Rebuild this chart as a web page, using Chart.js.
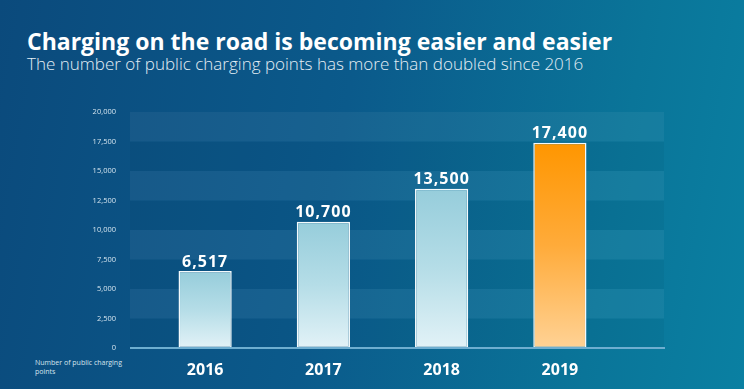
<!DOCTYPE html>
<html>
<head>
<meta charset="utf-8">
<script src="https://cdn.jsdelivr.net/npm/chart.js@4/dist/chart.umd.min.js"></script>
<style>
  html, body { margin: 0; padding: 0; }
  body {
    width: 744px; height: 389px; overflow: hidden; position: relative;
    background: linear-gradient(100deg, #0b4a7c 0%, #0b5a8b 45%, #0a7599 80%, #0a80a2 100%);
    font-family: "Open Sans", sans-serif; color: #fff;
  }
  #title { position: absolute; left: 27px; top: 25px; font-size: 23px; font-weight: 700; white-space: nowrap; }
  #subtitle { position: absolute; left: 27px; top: 52px; font-size: 17px; font-weight: 300; color: #e4eef5; white-space: nowrap; }
  #note { position: absolute; left: 35px; top: 358px; font-size: 7px; line-height: 9px; color: #d5e4ee; }
  canvas { position: absolute; left: 0; top: 0; }
</style>
</head>
<body>
<div id="title">Charging on the road is becoming easier and easier</div>
<div id="subtitle">The number of public charging points has more than doubled since 2016</div>
<div id="note">Number of public charging<br>points</div>
<canvas id="chart" width="744" height="389"></canvas>
<script>
const years = ["2016", "2017", "2018", "2019"];
const chargingPoints = [6517, 10700, 13500, 17400];
const valueLabels = ["6,517", "10,700", "13,500", "17,400"];
const highlightIndex = 3;

// horizontal stripes behind the bars + base line
const bandsPlugin = {
  id: "bands",
  beforeDatasetsDraw(chart) {
    const { ctx, chartArea, scales } = chart;
    const y = scales.y;
    const x0 = chartArea.left - 16, x1 = chartArea.right + 45;
    ctx.save();
    for (let v = 0; v < 20000; v += 2500) {
      const top = y.getPixelForValue(v + 2500), bot = y.getPixelForValue(v);
      ctx.fillStyle = (v / 2500) % 2 === 1 ? "rgba(255,255,255,0.05)" : "rgba(0,0,0,0.035)";
      ctx.fillRect(x0, top, x1 - x0, bot - top);
    }
    ctx.restore();
  },
  afterDatasetsDraw(chart) {
    const { ctx, chartArea, scales } = chart;
    const y0 = scales.y.getPixelForValue(0);
    ctx.save();
    ctx.strokeStyle = "#6eaed0";
    ctx.lineWidth = 2;
    ctx.beginPath();
    ctx.moveTo(chartArea.left - 16, y0);
    ctx.lineTo(chartArea.right + 46, y0);
    ctx.stroke();

    // value labels above the bars
    const meta = chart.getDatasetMeta(0);
    ctx.fillStyle = "#fff";
    ctx.font = "700 16px 'Open Sans'";
    ctx.letterSpacing = "1px";
    ctx.textAlign = "center";
    ctx.textBaseline = "bottom";
    meta.data.forEach((bar, i) => {
      ctx.fillText(valueLabels[i], bar.x, bar.y - 1);
    });
    ctx.restore();
  }
};

function barGradient(context) {
  const chart = context.chart;
  const { ctx, chartArea, scales } = chart;
  if (!chartArea) return "#aad6e2";
  const i = context.dataIndex;
  const top = scales.y.getPixelForValue(chargingPoints[i]);
  const bot = scales.y.getPixelForValue(0);
  const g = ctx.createLinearGradient(0, top, 0, bot);
  if (i === highlightIndex) {
    g.addColorStop(0, "#ff9600");
    g.addColorStop(0.5, "#ffab3a");
    g.addColorStop(1, "#ffd295");
  } else {
    g.addColorStop(0, "#96cddb");
    g.addColorStop(0.5, "#b5dde7");
    g.addColorStop(1, "#e2f2f7");
  }
  return g;
}

new Chart(document.getElementById("chart"), {
  type: "bar",
  data: {
    labels: years,
    datasets: [{
      data: chargingPoints,
      backgroundColor: barGradient,
      borderColor: "#f4fafc",
      borderWidth: 1.5,
      borderSkipped: false,
      categoryPercentage: 1,
      barPercentage: 0.45
    }]
  },
  options: {
    responsive: false,
    animation: false,
    layout: { padding: { left: 60, right: 125, top: 112, bottom: 14 } },
    plugins: { legend: { display: false }, tooltip: { enabled: false } },
    scales: {
      x: {
        grid: { display: false },
        border: { display: false },
        ticks: { color: "#fff", font: { family: "Open Sans", size: 16, weight: "700" }, padding: 5 },
        afterFit(scale) { scale.height = 27; }
      },
      y: {
        min: 0, max: 20000,
        grid: { display: false },
        border: { display: false },
        ticks: {
          stepSize: 2500, padding: 22, color: "#d3e3ee",
          font: { family: "Open Sans", size: 7.5 },
          callback: v => v.toLocaleString("en-US")
        },
        afterFit(scale) { scale.width = 86; }
      }
    }
  },
  plugins: [bandsPlugin]
});
</script>
</body>
</html>
